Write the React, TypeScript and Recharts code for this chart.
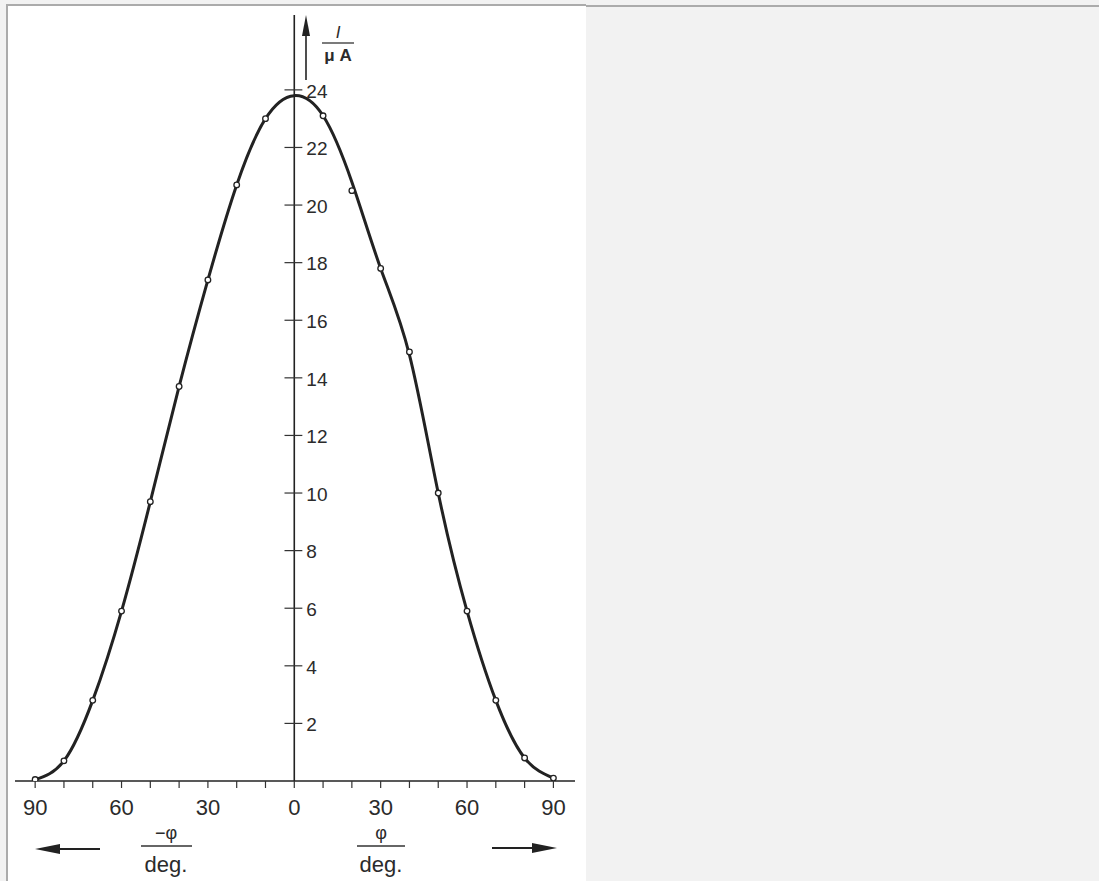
import React from "react";
import {
  ComposedChart,
  Line,
  XAxis,
  YAxis,
  ReferenceLine,
} from "recharts";

// angle of incidence (deg) and photocurrent (µA)
const angles = [-90, -80, -70, -60, -50, -40, -30, -20, -10, 0, 10, 20, 30, 40, 50, 60, 70, 80, 90];
const measured = [0.05, 0.7, 2.8, 5.9, 9.7, 13.7, 17.4, 20.7, 23.0, null, 23.1, 20.5, 17.8, 14.9, 10.0, 5.9, 2.8, 0.8, 0.1];
const fitted = [0.05, 0.7, 2.8, 5.9, 9.7, 13.7, 17.4, 20.7, 23.0, 23.8, 23.1, 20.8, 17.8, 14.8, 10.0, 5.9, 2.8, 0.8, 0.1];

const xTicks = [-90, -80, -70, -60, -50, -40, -30, -20, -10, 0, 10, 20, 30, 40, 50, 60, 70, 80, 90];
const yTicks = [2, 4, 6, 8, 10, 12, 14, 16, 18, 20, 22, 24];

const data = angles.map((deg, i) => ({
  deg,
  fit: fitted[i],
  meas: measured[i],
}));

const ink = "#222";
const textInk = "#2b2b2b";
const font = '"Liberation Sans", Arial, sans-serif';

export default function App() {
  return (
    <div
      style={{
        position: "absolute",
        left: 0,
        top: 0,
        width: 1099,
        height: 881,
        background: "#f2f2f2",
        overflow: "hidden",
      }}
    >
      <div style={{ position: "absolute", left: 586, top: 5, width: 513, height: 2, background: "#ababab" }} />
      <div
        style={{
          position: "absolute",
          left: 6,
          top: 4,
          width: 578,
          height: 877,
          background: "#fff",
          borderLeft: "2px solid #ababab",
          borderTop: "2px solid #ababab",
        }}
      />

      <div style={{ position: "absolute", left: 0, top: 0 }}>
        <ComposedChart
          width={600}
          height={881}
          data={data}
          margin={{ top: 15, right: 25, bottom: 40, left: 15 }}
        >
          <XAxis
            type="number"
            dataKey="deg"
            domain={[-97, 97.5]}
            allowDataOverflow
            ticks={xTicks}
            interval={0}
            tickFormatter={(v: number) => (v % 30 === 0 ? String(Math.abs(v)) : "")}
            axisLine={{ stroke: ink, strokeWidth: 1.6 }}
            tickLine={{ stroke: "#333", strokeWidth: 1.2 }}
            tickSize={7}
            tickMargin={11}
            tick={{ fill: textInk, fontSize: 22, fontFamily: font }}
            height={60}
          />
          <YAxis type="number" domain={[0, 26.6]} allowDataOverflow hide />

          <ReferenceLine x={0} stroke={ink} strokeWidth={1.6} />
          {yTicks.map((v) => (
            <ReferenceLine
              key={v}
              segment={[
                { x: -3.4, y: v },
                { x: 2.8, y: v },
              ]}
              stroke="#333"
              strokeWidth={1.2}
              label={{
                value: String(v),
                position: "right",
                offset: 4,
                fill: textInk,
                fontSize: 19,
                fontFamily: font,
                dy: 1,
              }}
            />
          ))}

          <Line
            type="natural"
            dataKey="fit"
            stroke={ink}
            strokeWidth={3}
            dot={false}
            activeDot={false}
            isAnimationActive={false}
          />
          <Line
            type="monotone"
            dataKey="meas"
            stroke="none"
            dot={{ r: 2.8, fill: "#fff", stroke: ink, strokeWidth: 1.3 }}
            activeDot={false}
            isAnimationActive={false}
          />
        </ComposedChart>
      </div>

      <svg
        width={600}
        height={881}
        style={{ position: "absolute", left: 0, top: 0, pointerEvents: "none" }}
      >
        {/* y-axis arrow and unit */}
        <line x1={306} y1={80} x2={306} y2={30} stroke={ink} strokeWidth={1.6} />
        <polygon points="306,15 302,36 310,36" fill={ink} />
        <text x={338} y={38} textAnchor="middle" fontFamily={font} fontStyle="italic" fontSize={17} fill={textInk}>
          I
        </text>
        <line x1={322} y1={43} x2={354} y2={43} stroke="#333" strokeWidth={1.3} />
        <text x={338} y={61} textAnchor="middle" fontFamily={font} fontSize={17} fontWeight="bold" fill={textInk}>
          μ A
        </text>

        {/* negative direction */}
        <line x1={58} y1={849} x2={100} y2={849} stroke={ink} strokeWidth={2} />
        <polygon points="35,849 60,844 60,854" fill={ink} />
        <text x={166} y={839} textAnchor="middle" fontFamily={font} fontSize={18} fill={textInk}>
          −φ
        </text>
        <line x1={141} y1={846} x2={192} y2={846} stroke="#333" strokeWidth={1.3} />
        <text x={166} y={872} textAnchor="middle" fontFamily={font} fontSize={22} fill={textInk}>
          deg.
        </text>

        {/* positive direction */}
        <line x1={492} y1={848} x2={534} y2={848} stroke={ink} strokeWidth={2} />
        <polygon points="557,848 532,843 532,853" fill={ink} />
        <text x={381} y={839} textAnchor="middle" fontFamily={font} fontSize={18} fill={textInk}>
          φ
        </text>
        <line x1={357} y1={846} x2={405} y2={846} stroke="#333" strokeWidth={1.3} />
        <text x={381} y={872} textAnchor="middle" fontFamily={font} fontSize={22} fill={textInk}>
          deg.
        </text>
      </svg>
    </div>
  );
}
